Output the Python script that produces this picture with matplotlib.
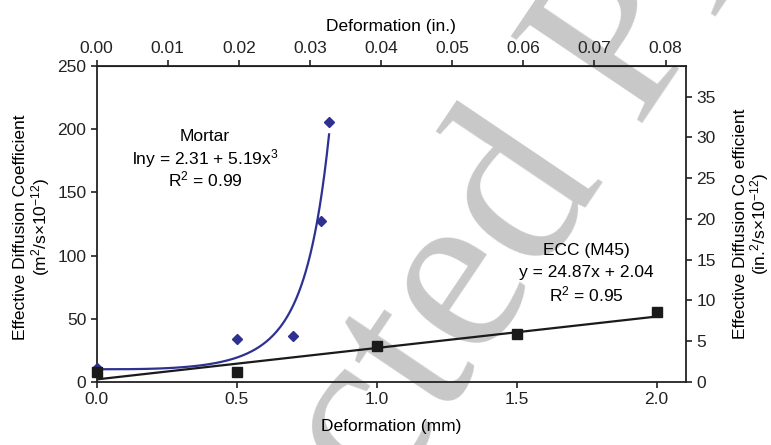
import numpy as np
import matplotlib
matplotlib.use('Agg')
import matplotlib.pyplot as plt
from matplotlib.ticker import FormatStrFormatter

plt.rcParams['font.family'] = ['Liberation Sans', 'DejaVu Sans']
plt.rcParams['mathtext.fontset'] = 'custom'
plt.rcParams['mathtext.rm'] = 'Liberation Sans'
plt.rcParams['mathtext.it'] = 'Liberation Sans:italic'
plt.rcParams['mathtext.bf'] = 'Liberation Sans:bold'

# data
mortar_x = [0.0, 0.5, 0.7, 0.8, 0.83]
mortar_y = [11, 34, 36, 127, 206]
ecc_x = [0.0, 0.5, 1.0, 1.5, 2.0]
ecc_y = [7.6, 8.2, 28.5, 38, 55]

# trend lines printed on the chart
mortar_a, mortar_b = 2.31, 5.19      # ln y = a + b x^3
ecc_slope, ecc_icpt = 24.87, 2.04     # y = m x + c

mm_per_in = 25.4
m2_to_in2 = 0.155

fs = 12.5
blue = '#2E3192'
black = '#1a1a1a'

fig = plt.figure(figsize=(7.71, 4.45), dpi=100)
ax = fig.add_axes([0.1254, 0.1416, 0.8898 - 0.1254, 0.8517 - 0.1416])
ax.set_facecolor('none')

# watermark behind everything
fig.text(0.571, 0.047, 'Uncorrected Proof', family='Liberation Serif', fontsize=172,
         color='#c8c8c8', rotation=56, rotation_mode='anchor', ha='center', va='baseline', zorder=-1)

xm = np.linspace(0, max(mortar_x), 200)
ax.plot(xm, np.exp(mortar_a + mortar_b * xm ** 3), color=blue, lw=1.6, zorder=2)
xe = np.array([0.0, 2.0])
ax.plot(xe, ecc_slope * xe + ecc_icpt, color=black, lw=1.6, zorder=2)

ax.plot(mortar_x, mortar_y, 'D', color=blue, ms=5.5, zorder=3, clip_on=False)
ax.plot(ecc_x, ecc_y, 's', color=black, ms=7, zorder=3, clip_on=False)

ax.set_xlim(0, 2.105)
ax.set_ylim(0, 250)
ax.set_xticks([0, 0.5, 1.0, 1.5, 2.0])
ax.xaxis.set_major_formatter(FormatStrFormatter('%.1f'))
ax.set_yticks(np.arange(0, 251, 50))
ax.tick_params(direction='out', length=4, width=1.2, labelsize=fs, colors='#222222')
for s in ax.spines.values():
    s.set_linewidth(1.3)
    s.set_color('#222222')
ax.set_xlabel('Deformation (mm)', fontsize=fs, labelpad=8)

# top axis in inches
top = ax.secondary_xaxis('top', functions=(lambda x: x / mm_per_in, lambda x: x * mm_per_in))
top.set_xticks(np.arange(0, 0.081, 0.01))
top.xaxis.set_major_formatter(FormatStrFormatter('%.2f'))
top.tick_params(direction='out', length=4, width=1.2, labelsize=fs, colors='#222222')
top.set_xlabel('Deformation (in.)', fontsize=fs, labelpad=7)

# right axis in in.^2
ax2 = ax.twinx()
ax2.set_ylim(0, 250 * m2_to_in2)
ax2.set_yticks(np.arange(0, 36, 5))
ax2.tick_params(direction='out', length=4, width=1.2, labelsize=fs, colors='#222222')
for s in ax2.spines.values():
    s.set_visible(False)

fig.text(0.027, 0.49, 'Effective Diffusion Coefficient', rotation=90, fontsize=fs,
         ha='center', va='center')
fig.text(0.053, 0.49, r'(m$^2$/s$\times$10$^{-12}$)', rotation=90, fontsize=fs,
         ha='center', va='center')
fig.text(0.96, 0.497, 'Effective Diffusion Co efficient', rotation=90, fontsize=fs,
         ha='center', va='center')
fig.text(0.985, 0.497, r'(in.$^2$/s$\times$10$^{-12}$)', rotation=90, fontsize=fs,
         ha='center', va='center')

# equation labels
ax.text(0.387, 194, 'Mortar', fontsize=fs, ha='center', va='center')
ax.text(0.387, 177, r'lny = 2.31 + 5.19x$^3$', fontsize=fs, ha='center', va='center')
ax.text(0.387, 160.6, r'R$^2$ = 0.99', fontsize=fs, ha='center', va='center')
ax.text(1.748, 104.4, 'ECC (M45)', fontsize=fs, ha='center', va='center')
ax.text(1.748, 86.5, 'y = 24.87x + 2.04', fontsize=fs, ha='center', va='center')
ax.text(1.748, 69.6, r'R$^2$ = 0.95', fontsize=fs, ha='center', va='center')

fig.savefig('out.png', dpi=100)
